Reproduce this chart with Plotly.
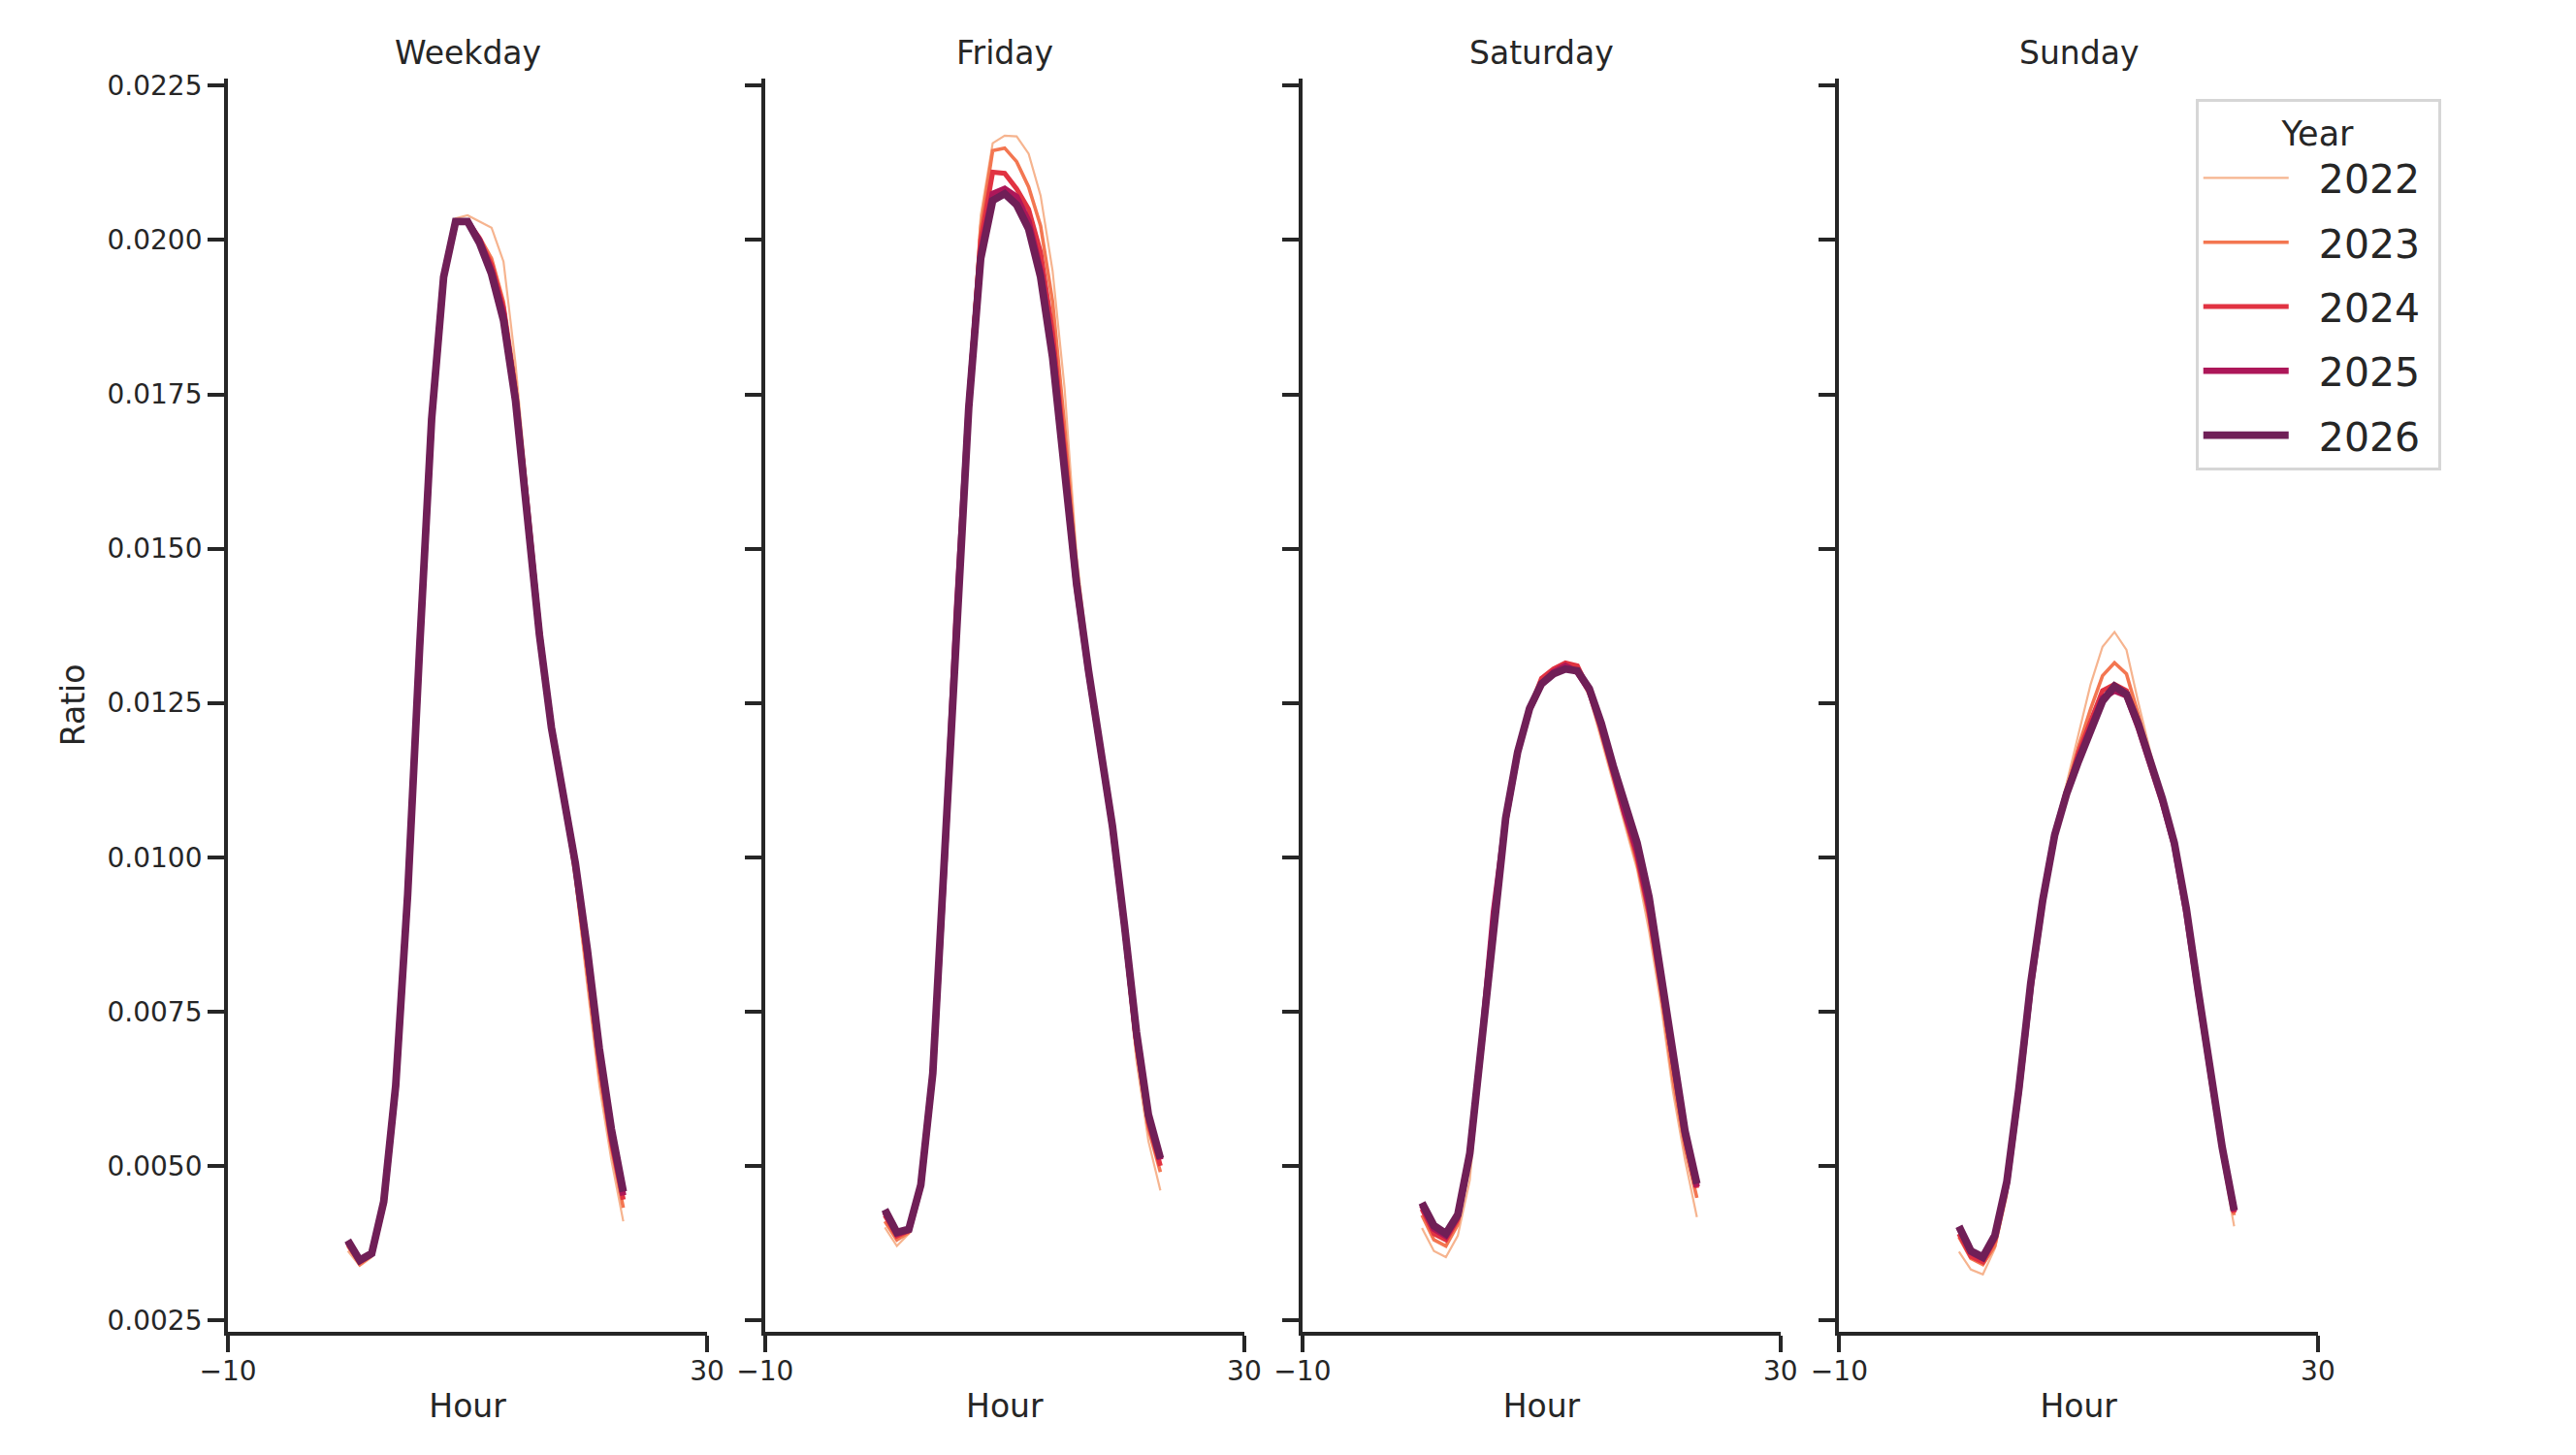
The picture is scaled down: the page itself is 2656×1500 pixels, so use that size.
import plotly.graph_objects as go

# hourly share of daily traffic, one curve per year and day type
HOURS = list(range(24))
YEARS = [2022, 2023, 2024, 2025, 2026]
PANELS = ["Weekday", "Friday", "Saturday", "Sunday"]

weekday_2022 = [.00362, .00338, .00352, .00438, .0063, .0094, .0134, .0171, .0194, .02035, .0204, .0203,
                .0202, .01965, .0180, .0159, .0139, .0122, .0109, .0096, .0079, .0063, .0051, .0041]
weekday_2023 = [.0037, .0034, .00355, .0044, .0063, .0094, .0134, .0171, .0194, .0203, .0203, .02005,
                .0197, .0190, .0177, .0158, .0138, .0122, .0110, .0097, .0081, .0065, .0053, .00432]
weekday_2024 = [.00374, .00344, .00357, .0044, .0063, .0094, .0134, .0171, .0194, .0203, .0203, .0200,
                .0196, .0189, .0175, .0157, .0137, .0121, .0110, .0098, .0083, .0067, .0054, .00445]
weekday_2025 = [.00377, .00346, .00358, .00441, .0063, .0094, .0134, .0171, .0194, .0203, .0203, .0200,
                .0195, .0188, .01745, .0156, .0136, .0121, .0110, .0099, .0084, .0068, .0055, .00452]
weekday_2026 = [.00379, .00347, .00358, .00442, .0063, .0094, .0134, .0171, .0194, .0203, .0203, .01995,
                .01945, .0187, .0174, .01555, .0136, .0121, .0110, .0099, .0085, .0069, .0056, .00458]

friday_2022 = [.0040, .0037, .0039, .00463, .0065, .0100, .0141, .0176, .0204, .02157, .02169, .02168,
               .0214, .02072, .0195, .0176, .0149, .0132, .0118, .0103, .0086, .0067, .0054, .0046]
friday_2023 = [.0041, .0038, .00392, .00465, .0065, .0100, .0141, .0175, .0202, .02145, .02149, .02127,
               .02086, .02023, .0190, .0170, .0147, .0131, .0118, .0104, .0087, .0069, .0056, .0049]
friday_2024 = [.0042, .00386, .00395, .00467, .0065, .0100, .0140, .0174, .0200, .0211, .02108, .02083,
               .0205, .0198, .0185, .0166, .0145, .0130, .0118, .0104, .0088, .0070, .0057, .0050]
friday_2025 = [.00425, .0039, .00396, .00468, .0065, .0100, .0140, .0173, .0198, .02075, .02083, .0207,
               .0203, .0195, .0182, .0163, .0144, .0130, .0118, .0105, .0089, .0071, .0058, .0051]
friday_2026 = [.00429, .00392, .00397, .00469, .0065, .00996, .01395, .01728, .0197, .02064, .02075, .02057,
               .02018, .0194, .0181, .0162, .01443, .01302, .01182, .0105, .0089, .00717, .00583, .00512]

saturday_2022 = [.00399, .00362, .00352, .00387, .00477, .0068, .0089, .0105, .0117, .0124, .0128, .0130,
                 .0131, .0130, .0126, .0119, .0112, .0105, .0098, .0088, .0076, .0062, .0051, .00417]
saturday_2023 = [.0042, .0038, .0037, .00405, .0051, .0070, .0090, .0106, .0117, .0124, .0128, .0130,
                 .0131, .0130, .0127, .0120, .0113, .0106, .0099, .0090, .0078, .0064, .0053, .00448]
saturday_2024 = [.0043, .0039, .0038, .00413, .0052, .0070, .0091, .0106, .0117, .0124, .0129, .01305,
                 .01315, .0131, .0127, .0121, .0114, .0107, .0100, .0091, .0079, .0066, .0055, .00464]
saturday_2025 = [.00436, .00398, .00386, .00418, .0052, .0070, .0091, .0106, .0117, .0124, .0128, .0130,
                 .0131, .0130, .0127, .0121, .0114, .0107, .0101, .0092, .0080, .0067, .0055, .00466]
saturday_2026 = [.0044, .00403, .0039, .00421, .0052, .00703, .00908, .01063, .0117, .01241, .01281, .01297,
                 .01305, .01302, .01273, .01217, .01148, .01084, .01023, .00935, .0081, .00677, .00557, .00471]

sunday_2022 = [.00361, .00332, .00324, .00366, .0045, .0061, .0079, .0093, .0104, .0112, .0120, .0128,
               .01341, .01365, .01336, .0125, .0117, .0110, .0102, .0091, .0077, .0063, .0051, .00402]
sunday_2023 = [.00385, .0035, .0034, .0037, .0046, .0062, .0079, .0093, .0104, .0111, .0118, .0124,
               .01294, .01315, .01297, .0123, .0116, .0109, .0102, .0091, .0078, .0064, .0052, .0042]
sunday_2024 = [.0039, .00353, .00344, .0038, .0047, .0062, .0079, .0093, .01036, .01106, .0117, .0122,
               .0127, .0128, .0127, .0122, .0115, .0109, .0102, .0091, .0078, .0065, .0053, .00424]
sunday_2025 = [.0040, .0036, .0035, .00385, .00472, .0062, .0079, .0093, .01036, .01105, .0116, .0121,
               .01258, .0127, .01262, .0121, .0115, .0109, .0102, .0091, .0078, .0065, .0053, .00426]
sunday_2026 = [.00402, .00362, .00352, .00387, .00474, .00623, .00796, .0093, .01036, .01103, .01156, .01208,
               .01253, .01277, .01264, .01215, .01156, .01095, .01023, .00917, .00783, .0065, .0053, .00428]

Y_TICKS = [0.0025, 0.0050, 0.0075, 0.0100, 0.0125, 0.0150, 0.0175, 0.0200, 0.0225]
X_TICKS = [-10, 30]
X_TICK_TEXT = ["\u221210", "30"]

SERIES = {
    "Weekday": [weekday_2022, weekday_2023, weekday_2024, weekday_2025, weekday_2026],
    "Friday": [friday_2022, friday_2023, friday_2024, friday_2025, friday_2026],
    "Saturday": [saturday_2022, saturday_2023, saturday_2024, saturday_2025, saturday_2026],
    "Sunday": [sunday_2022, sunday_2023, sunday_2024, sunday_2025, sunday_2026],
}

# rocket palette, light to dark
COLORS = ["#f6b48f", "#f37651", "#e13342", "#ad1759", "#701f57"]
WIDTHS = [2.2, 3.6, 5.0, 6.4, 7.8]
INK = "#262626"
FONT = "DejaVu Sans"

X_DOMAINS = [(0.0855, 0.2715), (0.2940, 0.4800), (0.5026, 0.6882), (0.7110, 0.8968)]
Y_DOMAIN = (0.0900, 0.9515)


def main() -> None:
    fig = go.Figure()
    for i, panel in enumerate(PANELS):
        for j, year in enumerate(YEARS):
            fig.add_trace(
                go.Scatter(
                    x=HOURS,
                    y=SERIES[panel][j],
                    mode="lines",
                    # padding around the legend label, as in seaborn
                    name="\u00a0\u00a0" + str(year) + "\u00a0",
                    legendgroup=str(year),
                    showlegend=(i == 0),
                    line=dict(color=COLORS[j], width=WIDTHS[j]),
                    xaxis=f"x{i + 1}",
                    yaxis=f"y{i + 1}",
                )
            )

    axis_style = dict(
        showline=True,
        linewidth=4,
        linecolor=INK,
        ticks="outside",
        ticklen=17,
        tickwidth=4,
        tickcolor=INK,
        showgrid=False,
        zeroline=False,
        automargin=False,
        tickfont=dict(size=28, color=INK),
    )

    layout = {}
    for i, panel in enumerate(PANELS):
        n = "" if i == 0 else str(i + 1)
        layout[f"xaxis{n}"] = dict(
            domain=X_DOMAINS[i],
            range=[-10, 30],
            tickvals=X_TICKS,
            ticktext=X_TICK_TEXT,
            anchor=f"y{n}",
            ticklabelstandoff=-5,
            title=dict(text="Hour", font=dict(size=33, color=INK), standoff=10),
            **axis_style,
        )
        ya = dict(
            domain=Y_DOMAIN,
            range=[0.00231, 0.02262],
            tickvals=Y_TICKS,
            tickformat=".4f",
            showticklabels=(i == 0),
            anchor=f"x{n}",
            **axis_style,
        )
        if i == 0:
            ya["title"] = dict(text="Ratio", font=dict(size=33, color=INK), standoff=14)
        else:
            ya["matches"] = "y"
        layout[f"yaxis{n}"] = ya

    fig.update_layout(**layout)

    for i, panel in enumerate(PANELS):
        fig.add_annotation(
            text=panel,
            x=(X_DOMAINS[i][0] + X_DOMAINS[i][1]) / 2,
            y=0.969,
            xref="paper",
            yref="paper",
            xanchor="center",
            yanchor="middle",
            showarrow=False,
            font=dict(size=33, color=INK),
        )

    fig.update_layout(
        width=2656,
        height=1500,
        margin=dict(l=0, r=0, t=0, b=0),
        paper_bgcolor="white",
        plot_bgcolor="white",
        font=dict(family=FONT, color=INK),
        legend=dict(
            x=0.8493,
            y=0.9375,
            xanchor="left",
            yanchor="top",
            bgcolor="white",
            bordercolor="#d6d6d6",
            borderwidth=3,
            font=dict(size=41, color=INK),
            title=dict(text="Year", font=dict(size=35, color=INK), side="top center"),
            itemwidth=88,
        ),
    )

    fig.write_html("out.html")


main()
